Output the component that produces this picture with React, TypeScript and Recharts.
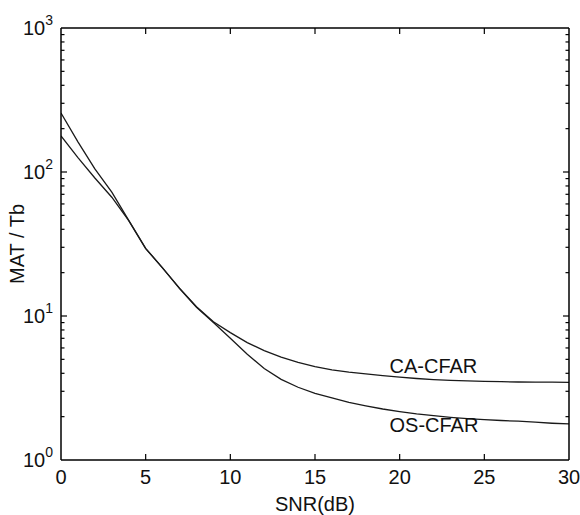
import React from "react";
import { LineChart, Line, XAxis, YAxis, ReferenceDot } from "recharts";

// SNR (dB) sample points
const snr = [0, 1, 2, 3, 4, 5, 6, 7, 8, 9, 10, 11, 12, 13, 14, 15, 16, 17, 18, 19, 20, 21, 22, 23, 24, 25, 26, 27, 28, 29, 30];

// MAT / Tb (log scale)
const osCfar = [257, 162, 105, 72.4, 46.2, 29.5, 21.6, 15.5, 11.5, 9.02, 7.0, 5.43, 4.32, 3.63, 3.2, 2.9, 2.7, 2.51, 2.38, 2.26, 2.17, 2.09, 2.03, 1.98, 1.94, 1.91, 1.88, 1.86, 1.83, 1.8, 1.78];
const caCfar = [178, 126, 90.8, 66.8, 46.0, 29.4, 21.5, 15.6, 11.6, 9.12, 7.67, 6.53, 5.75, 5.19, 4.76, 4.45, 4.23, 4.08, 3.96, 3.86, 3.76, 3.68, 3.62, 3.57, 3.54, 3.52, 3.5, 3.48, 3.47, 3.47, 3.46];

const xTicks = [0, 5, 10, 15, 20, 25, 30];
const yTicks = [1, 2, 3, 4, 5, 6, 7, 8, 9, 10, 20, 30, 40, 50, 60, 70, 80, 90, 100, 200, 300, 400, 500, 600, 700, 800, 900, 1000];

const data = snr.map((s, i) => ({ snr: s, os: osCfar[i], ca: caCfar[i] }));

const FONT = "Arial, 'Liberation Sans', sans-serif";
const INK = "#000";

const isMajor = (v: number) => {
  const e = Math.round(Math.log10(v));
  return Math.abs(v - Math.pow(10, e)) < 1e-9;
};

const YTick = (props: any) => {
  const { x, y, payload, side } = props;
  const v = payload.value;
  const major = isMajor(v);
  const dir = side === "left" ? 1 : -1;
  const len = major ? 6 : 3.5;
  const atEdge = v === 1 || v === 1000;
  return (
    <g>
      {!atEdge && <line x1={x} x2={x + dir * len} y1={y} y2={y} stroke={INK} strokeWidth={1.2} />}
      {side === "left" && major && (
        <text x={x - 8} y={y + 7} textAnchor="end" fontSize={20} fontFamily={FONT} fill="#111">
          10
          <tspan dy={-10} fontSize={14}>
            {Math.round(Math.log10(v))}
          </tspan>
        </text>
      )}
    </g>
  );
};

const XTick = (props: any) => {
  const { x, y, payload, side } = props;
  const v = payload.value;
  const dir = side === "bottom" ? -1 : 1;
  const atEdge = v === 0 || v === 30;
  return (
    <g>
      {!atEdge && <line x1={x} x2={x} y1={y} y2={y + dir * 6} stroke={INK} strokeWidth={1.2} />}
      {side === "bottom" && (
        <text x={x} y={y + 24} textAnchor="middle" fontSize={20} fontFamily={FONT} fill="#111">
          {v}
        </text>
      )}
    </g>
  );
};

const tag = (label: string) => (p: any) => (
  <text x={p.cx} y={p.cy} fontSize={20} fontFamily={FONT} fill="#111">
    {label}
  </text>
);

export default function App() {
  return (
    <div style={{ position: "absolute", left: 0, top: 0, background: "#fff" }}>
      <LineChart width={580} height={515} data={data} margin={{ top: 27, right: 10, bottom: 25, left: 16 }}>
        <XAxis
          dataKey="snr"
          type="number"
          domain={[0, 30]}
          ticks={xTicks}
          interval={0}
          height={30}
          tickSize={0}
          tickMargin={0}
          allowDataOverflow
          axisLine={{ stroke: INK, strokeWidth: 1.5 }}
          tick={<XTick side="bottom" />}
          label={{ value: "SNR(dB)", position: "bottom", offset: 7, style: { fontSize: 20, fontFamily: FONT, fill: "#111" } }}
        />
        <XAxis
          xAxisId="top"
          orientation="top"
          dataKey="snr"
          type="number"
          domain={[0, 30]}
          ticks={xTicks}
          interval={0}
          height={1}
          tickSize={0}
          tickMargin={0}
          allowDataOverflow
          axisLine={{ stroke: INK, strokeWidth: 1.5 }}
          tick={<XTick side="top" />}
        />
        <YAxis
          scale="log"
          domain={[1, 1000]}
          ticks={yTicks}
          interval={0}
          width={45}
          tickSize={0}
          tickMargin={0}
          allowDataOverflow
          axisLine={{ stroke: INK, strokeWidth: 1.5 }}
          tick={<YTick side="left" />}
          label={{ value: "MAT / Tb", angle: -90, position: "insideLeft", offset: 1, style: { textAnchor: "middle", fontSize: 20, fontFamily: FONT, fill: "#111" } }}
        />
        <YAxis
          yAxisId="right"
          orientation="right"
          scale="log"
          domain={[1, 1000]}
          ticks={yTicks}
          interval={0}
          width={1}
          tickSize={0}
          tickMargin={0}
          allowDataOverflow
          axisLine={{ stroke: INK, strokeWidth: 1.5 }}
          tick={<YTick side="right" />}
        />
        <Line type="linear" dataKey="ca" stroke="#1a1a1a" strokeWidth={1.3} dot={false} isAnimationActive={false} />
        <Line type="linear" dataKey="os" stroke="#1a1a1a" strokeWidth={1.3} dot={false} isAnimationActive={false} />
        <Line xAxisId="top" yAxisId="right" type="linear" dataKey="ca" stroke="none" dot={false} activeDot={false} isAnimationActive={false} />
        <ReferenceDot x={19.4} y={4.0} r={0} shape={tag("CA-CFAR")} />
        <ReferenceDot x={19.4} y={1.57} r={0} shape={tag("OS-CFAR")} />
      </LineChart>
    </div>
  );
}
